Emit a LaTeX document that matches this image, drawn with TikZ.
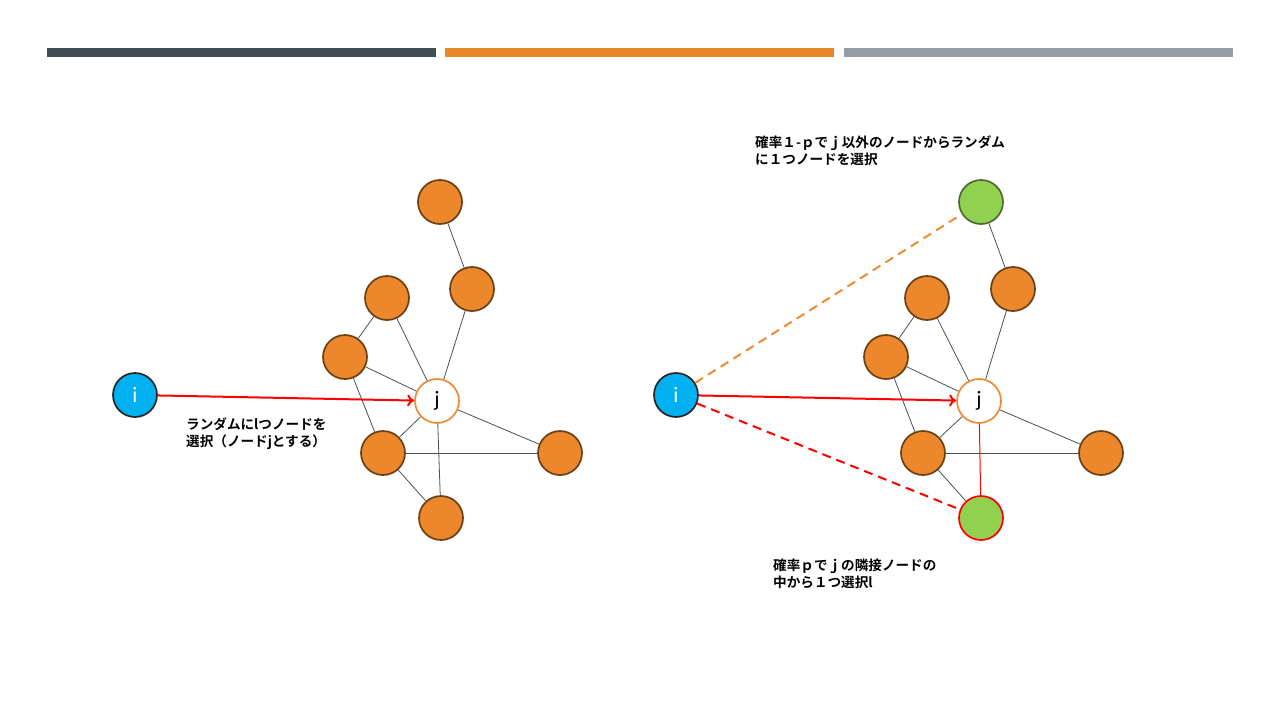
\documentclass[tikz,border=0pt]{standalone}
\usepackage{fontspec}
\newfontfamily\cjk{Noto Sans CJK JP}[BoldFont={Noto Sans CJK JP Bold}]
\newfontfamily\lbl{Carlito}
\usetikzlibrary{arrows.meta}
\definecolor{bardark}{HTML}{3F4D53}
\definecolor{barorange}{HTML}{E8862A}
\definecolor{bargray}{HTML}{959EA6}
\definecolor{nodeorange}{HTML}{EC872B}
\definecolor{nodeedge}{HTML}{6A4015}
\definecolor{ringorange}{HTML}{EF8A32}
\definecolor{cyanfill}{HTML}{00B0F0}
\definecolor{greenfill}{HTML}{92D050}
\definecolor{greenedge}{HTML}{4F6A2E}
\definecolor{linkgray}{HTML}{4A5055}
\tikzset{
  vtx/.style={circle, minimum size=44pt, inner sep=0pt, line width=1.7pt},
  plain/.style={vtx, fill=nodeorange, draw=nodeedge},
  target/.style={vtx, fill=white, draw=ringorange, font=\lbl\fontsize{22}{22}\selectfont},
  start/.style={vtx, fill=cyanfill, draw=black!85, text=white, font=\lbl\fontsize{22}{22}\selectfont},
  pick/.style={vtx, fill=greenfill, draw=greenedge},
  pickred/.style={vtx, fill=greenfill, draw=red},
  link/.style={draw=linkgray, line width=0.8pt},
  choose/.style={draw=red, line width=2pt, -{To[length=7pt,width=12pt]}},
  guess/.style={line width=2pt, dash pattern=on 9pt off 6pt},
  note/.style={anchor=north west, inner sep=0pt, align=left, font=\cjk\bfseries\fontsize{13.6}{17}\selectfont},
}
\begin{document}
\begin{tikzpicture}[x=1pt,y=-1pt]
\useasboundingbox (0,0) rectangle (1280,720);
% header bars
\fill[bardark] (47,48) rectangle (436,57);
\fill[barorange] (445,48) rectangle (834,57);
\fill[bargray] (844,48) rectangle (1233,57);

% left graph
\node[plain] (lt) at (440,202) {};
\node[plain] (la) at (472,289) {};
\node[plain] (lb) at (387,298) {};
\node[plain] (lc) at (345,357) {};
\node[plain] (ld) at (383,453) {};
\node[plain] (le) at (560,453) {};
\node[plain] (lf) at (441,518) {};
\node[target] (lj) at (437,401) {j};
\node[start] (li) at (135,395) {i};
\draw[link] (lt) -- (la);
\draw[link] (la) -- (lj);
\draw[link] (lb) -- (lc);
\draw[link] (lb) -- (lj);
\draw[link] (lc) -- (lj);
\draw[link] (lc) -- (ld);
\draw[link] (lj) -- (ld);
\draw[link] (lj) -- (le);
\draw[link] (ld) -- (le);
\draw[link] (ld) -- (lf);
\draw[link] (lj) -- (lf);
\draw[choose] (li) -- (lj);
\node[note] (lnote) at (186,418) {ランダムにlつノードを\\選択（ノードjとする）};

% right graph
\node[pick] (rt) at (981,202) {};
\node[plain] (ra) at (1013,289) {};
\node[plain] (rb) at (927,298) {};
\node[plain] (rc) at (886,357) {};
\node[plain] (rd) at (923,453) {};
\node[plain] (re) at (1101,453) {};
\node[pickred] (rf) at (981,518) {};
\node[target] (rj) at (979,401) {j};
\node[start] (ri) at (676,395) {i};
\draw[link] (rt) -- (ra);
\draw[link] (ra) -- (rj);
\draw[link] (rb) -- (rc);
\draw[link] (rb) -- (rj);
\draw[link] (rc) -- (rj);
\draw[link] (rc) -- (rd);
\draw[link] (rj) -- (rd);
\draw[link] (rj) -- (re);
\draw[link] (rd) -- (re);
\draw[link] (rd) -- (rf);
\draw[draw=red, line width=1pt] (rj) -- (rf);
\draw[guess, draw=ringorange] (ri) -- (rt);
\draw[guess, draw=red] (ri) -- (rf);
\draw[choose] (ri) -- (rj);
\node[note] (rtop) at (755,136) {確率１-ｐでｊ以外のノードからランダム\\に１つノードを選択};
\node[note] (rbot) at (773,559) {確率ｐでｊの隣接ノードの\\中から１つ選択l};
\end{tikzpicture}
\end{document}
